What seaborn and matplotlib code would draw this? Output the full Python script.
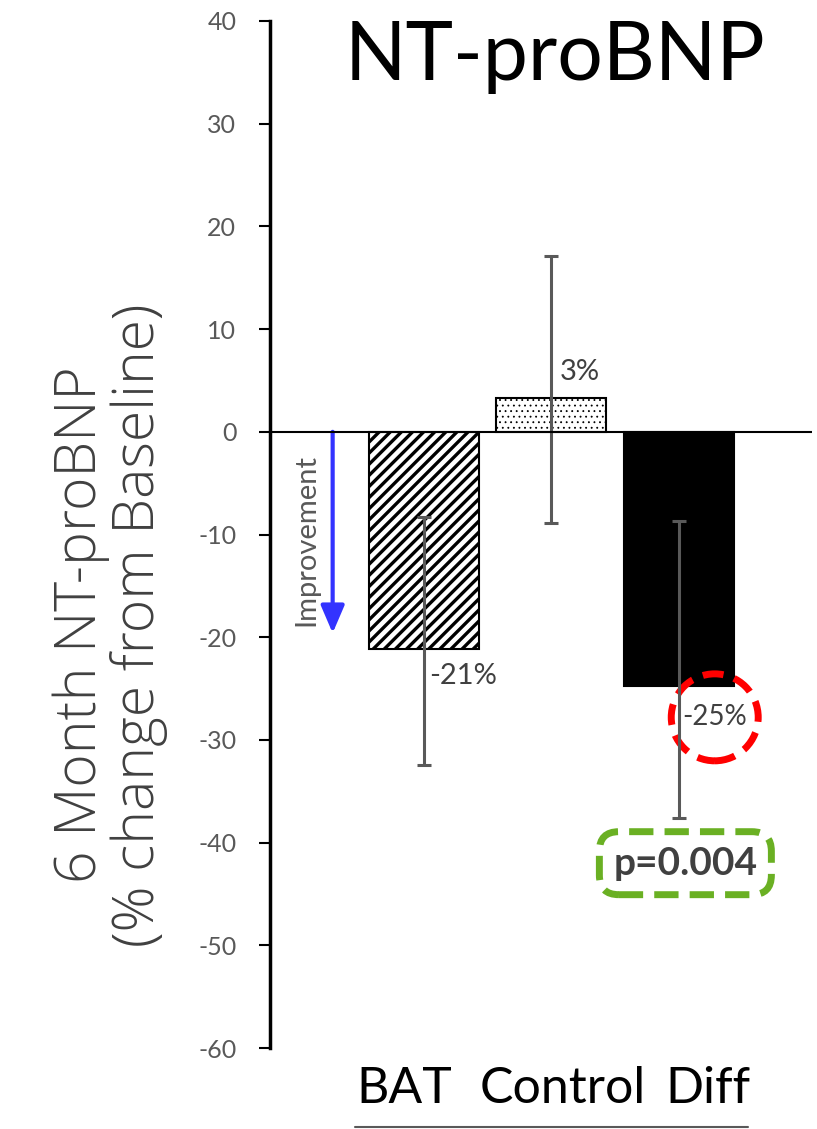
import matplotlib
matplotlib.use("Agg")
import matplotlib.pyplot as plt
import seaborn as sns
import pandas as pd
import numpy as np
from matplotlib.lines import Line2D

# ---- data ----
categories = ["BAT", "Control", "Diff"]
values = [-21.1, 3.3, -24.7]
ci_low = [-32.4, -8.9, -37.6]
ci_high = [-8.3, 17.1, -8.7]
value_labels = ["-21%", "3%", "-25%"]
p_text = "p=0.004"
yticks = [40, 30, 20, 10, 0, -10, -20, -30, -40, -50, -60]

sns.set_theme(style="white")
plt.rcParams['font.family'] = ['Lato', 'DejaVu Sans']
plt.rcParams['hatch.linewidth'] = 2.4

fig = plt.figure(figsize=(8.17, 11.29), dpi=100)
ax = fig.add_axes([0.330, 0.0717, 0.664, 0.9097])

df = pd.DataFrame({"cat": categories, "val": values})
sns.barplot(data=df, x="cat", y="val", hue="cat", palette=["white", "white", "black"],
            width=0.863, edgecolor="black", linewidth=1.5, legend=False, ax=ax)

hatches = ["///", "...", ""]
for patch, h in zip(ax.patches, hatches):
    patch.set_hatch(h)
    if h.startswith(".") and hasattr(patch, "set_hatch_linewidth"):
        patch.set_hatch_linewidth(0.6)

xs = np.arange(len(categories))
vals = np.array(values)
lower = vals - np.array(ci_low)
upper = np.array(ci_high) - vals
ax.errorbar(xs, vals, yerr=[lower, upper], fmt="none", ecolor="#595959",
            elinewidth=2.2, capsize=5, capthick=2.2, zorder=5)

ax.axhline(0, color="black", lw=1.5, zorder=6)

ax.set_ylim(-60, 40)
ax.set_xlim(-1.208, 3.043)
ax.set_yticks(yticks)
ax.set_yticklabels([str(t) for t in yticks], color="#595959", fontsize=18)
ax.tick_params(axis="y", direction="out", length=8, width=1.5, color="black", pad=16, left=True)
ax.set_xticks([])
ax.set_xlabel("")
ax.set_ylabel("")
for s in ["top", "right", "bottom"]:
    ax.spines[s].set_visible(False)
ax.spines["left"].set_linewidth(2.5)
ax.spines["left"].set_color("black")

# value labels
ax.text(1.22, 5.8, value_labels[1], ha="center", va="center", fontsize=21, color="#404040")
ax.text(0.31, -23.8, value_labels[0], ha="center", va="center", fontsize=21, color="#404040")
ax.text(2.28, -27.8, value_labels[2], ha="center", va="center", fontsize=20, color="#404040",
        bbox=dict(boxstyle="circle,pad=0.4", fc="none", ec="#ff0000", lw=5,
                  linestyle=(0, (3, 1.6))))
ax.text(2.05, -42.0, p_text, ha="center", va="center", fontsize=28, fontweight="bold",
        color="#404040",
        bbox=dict(boxstyle="round,pad=0.36,rounding_size=0.5", fc="white", ec="#6ab023", lw=5,
                  linestyle=(0, (3.5, 1.6))), zorder=7)

# improvement arrow
ax.annotate("", xy=(-0.714, -19.6), xytext=(-0.714, 0),
            arrowprops=dict(arrowstyle="-|>,head_length=1.4,head_width=0.6", color="#3333ff", lw=3,
                            shrinkA=0, shrinkB=0))
ax.text(-0.92, -10.5, "Improvement", rotation=90, ha="center", va="center", fontsize=21,
        color="#595959")

# title
fig.text(555 / 817, 1 - 57 / 1129, "NT-proBNP", ha="center", va="center", fontsize=58, color="black")

# y label
fig.text(110 / 817, 1 - 625 / 1129, "6 Month NT-proBNP\n(% change from Baseline)", rotation=90,
         ha="center", va="center", fontsize=41, color="#404040", linespacing=1.0,
         multialignment="center", family=["Open Sans", "DejaVu Sans"], fontweight="light")

# category labels
for name, xc in zip(categories, [404, 563, 708]):
    fig.text(xc / 817, 1 - 1089 / 1129, name, ha="center", va="center", fontsize=36, color="black")

fig.add_artist(Line2D([355 / 817, 748 / 817], [1 - 1127 / 1129] * 2, color="#595959", lw=1.5))

fig.savefig("out.png", dpi=100)
